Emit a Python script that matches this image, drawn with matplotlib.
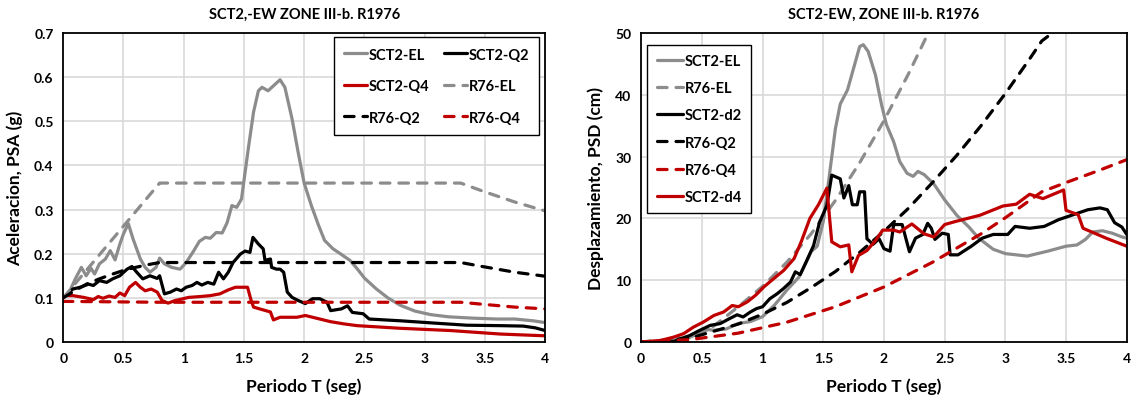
import matplotlib

matplotlib.use("Agg")
import matplotlib.pyplot as plt

# ---- PSA spectra (left panel), T in s, PSA in g ----
t_el = [0, 0.05, 0.1, 0.15, 0.19, 0.23, 0.26, 0.3, 0.35, 0.39, 0.43, 0.47, 0.5, 0.54, 0.58,
        0.64, 0.68, 0.72, 0.77, 0.8, 0.84, 0.9, 0.97, 1.02, 1.08, 1.13, 1.18, 1.22, 1.27, 1.32,
        1.36, 1.4, 1.44, 1.48, 1.51, 1.54, 1.58, 1.62, 1.65, 1.7, 1.76, 1.8, 1.84, 1.9, 1.95,
        2.0, 2.06, 2.12, 2.17, 2.24, 2.3, 2.38, 2.44, 2.5, 2.6, 2.7, 2.8, 2.92, 3.05, 3.2,
        3.4, 3.6, 3.75, 3.9, 4.0]
psa_el = [0.101, 0.113, 0.143, 0.169, 0.15, 0.167, 0.154, 0.177, 0.188, 0.207, 0.186, 0.222,
          0.245, 0.268, 0.233, 0.188, 0.169, 0.158, 0.169, 0.19, 0.177, 0.169, 0.165, 0.18,
          0.205, 0.228, 0.237, 0.235, 0.248, 0.247, 0.27, 0.309, 0.305, 0.324, 0.385, 0.445,
          0.521, 0.569, 0.577, 0.569, 0.584, 0.594, 0.577, 0.505, 0.43, 0.36, 0.309, 0.264,
          0.23, 0.211, 0.2, 0.185, 0.166, 0.145, 0.12, 0.099, 0.083, 0.07, 0.062, 0.057,
          0.054, 0.052, 0.052, 0.048, 0.044]

t_q2 = [0, 0.08, 0.14, 0.21, 0.25, 0.3, 0.36, 0.41, 0.47, 0.53, 0.57, 0.61, 0.66, 0.72, 0.78,
        0.8, 0.84, 0.89, 0.94, 0.98, 1.02, 1.07, 1.11, 1.15, 1.2, 1.25, 1.29, 1.33, 1.37, 1.41,
        1.47, 1.51, 1.55, 1.575, 1.62, 1.66, 1.675, 1.72, 1.73, 1.77, 1.8, 1.83, 1.86, 1.9, 1.95,
        2.01, 2.07, 2.13, 2.19, 2.22, 2.31, 2.36, 2.4, 2.49, 2.54, 2.8, 3.07, 3.35, 3.63, 3.82,
        3.92, 4.0]
psa_q2 = [0.101, 0.12, 0.124, 0.131, 0.128, 0.139, 0.135, 0.143, 0.15, 0.165, 0.171, 0.158,
          0.143, 0.15, 0.144, 0.15, 0.109, 0.113, 0.12, 0.116, 0.124, 0.128, 0.135, 0.129,
          0.135, 0.131, 0.158, 0.143, 0.158, 0.18, 0.199, 0.206, 0.203, 0.237, 0.222, 0.211,
          0.185, 0.188, 0.169, 0.165, 0.165, 0.158, 0.113, 0.101, 0.094, 0.087, 0.098, 0.098,
          0.09, 0.071, 0.075, 0.082, 0.067, 0.064, 0.052, 0.048, 0.043, 0.038, 0.037, 0.036,
          0.032, 0.026]

t_q4 = [0, 0.08, 0.17, 0.25, 0.29, 0.33, 0.38, 0.43, 0.47, 0.51, 0.55, 0.6, 0.64, 0.68, 0.73,
        0.78, 0.82, 0.87, 0.93, 0.98, 1.04, 1.14, 1.22, 1.3, 1.37, 1.43, 1.5, 1.53, 1.56, 1.58,
        1.63, 1.72, 1.745, 1.8, 1.94, 2.01, 2.13, 2.22, 2.33, 2.44, 2.8, 3.21, 3.63, 4.0]
psa_q4 = [0.105, 0.105, 0.101, 0.096, 0.103, 0.099, 0.104, 0.101, 0.111, 0.105, 0.124, 0.135,
          0.124, 0.116, 0.12, 0.113, 0.094, 0.088, 0.094, 0.097, 0.101, 0.103, 0.105, 0.109,
          0.118, 0.124, 0.124, 0.124, 0.094, 0.079, 0.075, 0.068, 0.05, 0.056, 0.056, 0.06,
          0.052, 0.046, 0.041, 0.037, 0.031, 0.026, 0.018, 0.014]

# RCDF 1976 design spectra
t_r76_el = [0, 0.8, 3.3, 3.5, 3.75, 4.0]
psa_r76_el = [0.1, 0.36, 0.36, 0.34, 0.317, 0.297]
t_r76_q2 = [0, 0.1, 0.2, 0.3, 0.4, 0.5, 0.6, 0.7, 0.8, 3.3, 3.5, 3.75, 4.0]
psa_r76_q2 = [0.1, 0.117, 0.132, 0.143, 0.153, 0.162, 0.169, 0.175, 0.18, 0.18, 0.17, 0.158, 0.149]
t_r76_q4 = [0, 0.8, 3.3, 3.5, 3.75, 4.0]
psa_r76_q4 = [0.092, 0.09, 0.09, 0.085, 0.079, 0.075]

# ---- PSD spectra (right panel), PSD in cm ----
t_d_el = [0, 0.2, 0.3, 0.4, 0.5, 0.55, 0.6, 0.7, 0.8, 0.9, 1.0, 1.1, 1.2, 1.3, 1.35, 1.4, 1.45,
          1.5, 1.55, 1.6, 1.64, 1.7, 1.75, 1.8, 1.83, 1.87, 1.93, 1.98, 2.02, 2.08, 2.13, 2.19,
          2.24, 2.28, 2.33, 2.41, 2.5, 2.6, 2.7, 2.78, 2.9, 3.0, 3.18, 3.35, 3.5, 3.59, 3.66,
          3.72, 3.8, 3.88, 3.96, 4.0]
psd_el = [0, 0.15, 0.35, 0.75, 1.6, 2.0, 1.9, 2.1, 3.0, 3.3, 4.1, 6.0, 8.4, 10.5, 12.5, 14.6,
          15.5, 19.5, 26.9, 34.5, 38.5, 40.8, 44.3, 47.8, 48.1, 47.0, 43.2, 38.4, 35.2, 32.4,
          29.2, 27.3, 26.8, 27.6, 27.1, 25.6, 23.0, 20.5, 18.6, 16.8, 15.0, 14.3, 13.9, 14.7,
          15.5, 15.7, 16.6, 17.8, 18.0, 17.6, 17.0, 16.8]

t_d2 = [0, 0.27, 0.4, 0.48, 0.57, 0.65, 0.73, 0.79, 0.84, 0.9, 0.95, 1.0, 1.06, 1.12, 1.17,
        1.23, 1.27, 1.31, 1.36, 1.42, 1.47, 1.53, 1.57, 1.64, 1.67, 1.71, 1.74, 1.78, 1.8, 1.84,
        1.86, 1.91, 1.96, 2.0, 2.05, 2.08, 2.15, 2.21, 2.26, 2.32, 2.36, 2.39, 2.42, 2.48, 2.53,
        2.545, 2.61, 2.72, 2.81, 2.9, 3.02, 3.08, 3.2, 3.32, 3.44, 3.56, 3.68, 3.78, 3.84, 3.9,
        3.96, 4.0]
psd_d2 = [0, 0.1, 1.05, 1.86, 2.7, 2.97, 3.8, 4.4, 4.05, 4.86, 5.4, 5.7, 7.0, 7.8, 8.6, 9.7,
          11.35, 10.9, 13.0, 15.6, 19.4, 22.1, 27.0, 26.4, 23.3, 25.3, 22.2, 22.2, 24.3, 24.3,
          16.7, 15.8, 16.7, 15.1, 14.7, 19.0, 19.0, 14.6, 16.8, 17.4, 19.2, 18.4, 16.6, 17.6,
          17.4, 14.1, 14.1, 15.5, 16.8, 17.4, 17.4, 18.7, 18.4, 18.7, 19.8, 20.6, 21.4, 21.7,
          21.4, 19.3, 18.6, 17.4]

t_d4 = [0, 0.16, 0.27, 0.35, 0.43, 0.51, 0.6, 0.68, 0.75, 0.8, 0.875, 0.945, 1.01, 1.095,
        1.175, 1.26, 1.32, 1.39, 1.46, 1.53, 1.57, 1.64, 1.71, 1.735, 1.79, 1.86, 1.93, 1.99,
        2.08, 2.13, 2.23, 2.33, 2.41, 2.5, 2.59, 2.79, 2.98, 3.09, 3.2, 3.31, 3.48, 3.5, 3.6,
        3.64, 3.83, 4.0]
psd_d4 = [0, 0.25, 0.8, 1.35, 2.4, 3.2, 4.3, 4.86, 5.9, 5.7, 6.5, 7.6, 8.9, 10.3, 11.6, 13.5,
          16.3, 20.0, 22.2, 24.9, 16.2, 15.4, 15.7, 11.35, 14.0, 14.8, 16.4, 18.1, 18.1, 17.8,
          19.1, 17.5, 17.0, 19.0, 19.5, 20.5, 22.0, 22.3, 23.9, 23.2, 24.6, 21.3, 20.6, 18.4,
          16.8, 15.5]

t_p_el = [0, 0.2, 0.4, 0.6, 0.8, 1.0, 1.2, 1.4, 1.6, 1.8, 2.0, 2.2, 2.37]
psd_r76_el = [0, 0.16, 0.9, 2.6, 5.7, 9.0, 12.9, 17.5, 22.9, 29.0, 35.8, 43.3, 50.2]
t_p_q2 = [0, 0.4, 0.8, 1.0, 1.2, 1.4, 1.6, 1.8, 2.0, 2.2, 2.4, 2.6, 2.8, 3.0, 3.2, 3.3, 3.4]
psd_r76_q2 = [0, 0.6, 2.9, 4.5, 6.4, 8.8, 11.4, 14.5, 17.9, 21.6, 25.8, 30.2, 35.0, 40.2, 45.8,
              48.7, 50.2]
t_p_q4 = [0, 0.4, 0.8, 1.2, 1.6, 2.0, 2.4, 2.8, 3.0, 3.3, 3.5, 3.75, 4.0]
psd_r76_q4 = [0, 0.37, 1.43, 3.2, 5.7, 8.9, 12.9, 17.5, 20.1, 24.3, 25.8, 27.6, 29.5]

GRAY = "#8c8c8c"
RED = "#c00000"
BLACK = "#000000"
LW = 2.3
DASH = (3.0, 2.8)

plt.rcParams["font.family"] = ["Lato", "DejaVu Sans"]
plt.rcParams["font.weight"] = "bold"
plt.rcParams["axes.labelweight"] = "bold"
plt.rcParams["axes.titleweight"] = "bold"


def _line(ax, x, y, color, label, dashed=False):
    kw = dict(color=color, lw=LW, label=label, solid_capstyle="round",
              dash_capstyle="round", solid_joinstyle="round", clip_on=True)
    if dashed:
        kw["dashes"] = DASH
    (ln,) = ax.plot(x, y, **kw)
    return ln


def _style(ax, ymax, ystep, yfmt):
    ax.set_xlim(0, 4)
    ax.set_ylim(0, ymax)
    ax.set_xticks([0, 0.5, 1, 1.5, 2, 2.5, 3, 3.5, 4])
    ax.set_xticklabels(["0", "0.5", "1", "1.5", "2", "2.5", "3", "3.5", "4"])
    yt = [i * ystep for i in range(int(round(ymax / ystep)) + 1)]
    ax.set_yticks(yt)
    ax.set_yticklabels([yfmt(v) for v in yt])
    ax.grid(True, color="#d9d9d9", lw=1.2)
    ax.set_axisbelow(True)
    ax.tick_params(length=0, labelsize=10, pad=7)
    for s in ax.spines.values():
        s.set_linewidth(1.3)
        s.set_color("black")
    ax.set_xlabel("Periodo T (seg)", fontsize=12.5, labelpad=10)


fig = plt.figure(figsize=(11.34, 4.02), dpi=100)

# Left: pseudo-acceleration
ax1 = fig.add_axes([0.0558, 0.1468, 0.4248, 0.7687])
h_el = _line(ax1, t_el, psa_el, GRAY, "SCT2-EL")
h_q2 = _line(ax1, t_q2, psa_q2, BLACK, "SCT2-Q2")
h_q4 = _line(ax1, t_q4, psa_q4, RED, "SCT2-Q4")
h_rel = _line(ax1, t_r76_el, psa_r76_el, GRAY, "R76-EL", dashed=True)
h_rq2 = _line(ax1, t_r76_q2, psa_r76_q2, BLACK, "R76-Q2", dashed=True)
h_rq4 = _line(ax1, t_r76_q4, psa_r76_q4, RED, "R76-Q4", dashed=True)
_style(ax1, 0.7, 0.1, lambda v: "0" if v == 0 else f"{v:.1f}")
ax1.set_ylabel("Aceleracion, PSA (g)", fontsize=12.5, labelpad=8)
ax1.set_title("SCT2,-EW ZONE III-b. R1976", fontsize=10.5, pad=11)
leg1 = ax1.legend(handles=[h_el, h_q4, h_rq2, h_q2, h_rel, h_rq4], ncol=2,
                  loc="upper right", bbox_to_anchor=(0.988, 0.986), borderaxespad=0,
                  fontsize=10.5, handlelength=1.6, handletextpad=0.1, labelspacing=1.2,
                  columnspacing=1.0, fancybox=False, edgecolor="black", framealpha=1,
                  borderpad=0.7)
leg1.get_frame().set_linewidth(1.0)

# Right: pseudo-displacement
ax2 = fig.add_axes([0.5654, 0.1468, 0.4282, 0.7687])
g_el = _line(ax2, t_d_el, psd_el, GRAY, "SCT2-EL")
g_rel = _line(ax2, t_p_el, psd_r76_el, GRAY, "R76-EL", dashed=True)
g_d2 = _line(ax2, t_d2, psd_d2, BLACK, "SCT2-d2")
g_rq2 = _line(ax2, t_p_q2, psd_r76_q2, BLACK, "R76-Q2", dashed=True)
g_rq4 = _line(ax2, t_p_q4, psd_r76_q4, RED, "R76-Q4", dashed=True)
g_d4 = _line(ax2, t_d4, psd_d4, RED, "SCT2-d4")
_style(ax2, 50, 10, lambda v: f"{v:.0f}")
ax2.set_ylabel("Desplazamiento, PSD (cm)", fontsize=12.5, labelpad=8)
ax2.set_title("SCT2-EW, ZONE III-b. R1976", fontsize=10.5, pad=11)
leg2 = ax2.legend(handles=[g_el, g_rel, g_d2, g_rq2, g_rq4, g_d4], loc="upper left",
                  bbox_to_anchor=(0.0126, 0.962), borderaxespad=0, fontsize=10.5,
                  handlelength=1.8, handletextpad=0.1, labelspacing=0.9, fancybox=False,
                  edgecolor="black", framealpha=1, borderpad=0.65)
leg2.get_frame().set_linewidth(1.0)

fig.savefig("out.png", dpi=100)
